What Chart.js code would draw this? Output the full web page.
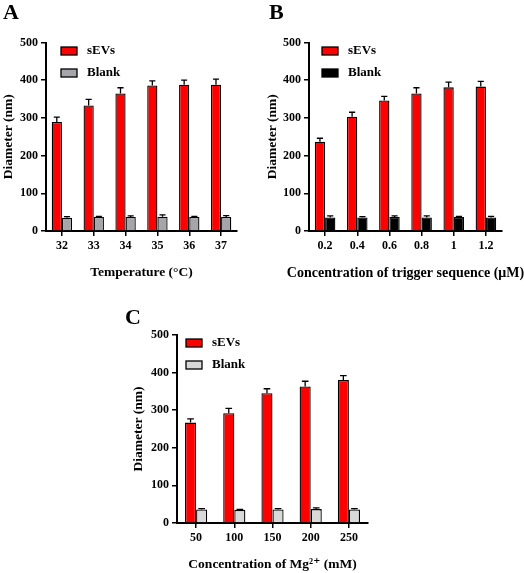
<!DOCTYPE html>
<html>
<head>
<meta charset="utf-8">
<script src="https://cdn.jsdelivr.net/npm/chart.js@4.4.1/dist/chart.umd.min.js"></script>
<style>
  html, body { margin: 0; padding: 0; background: #fff; }
  #wrap { position: relative; width: 524px; height: 573px; overflow: hidden; }
  canvas { position: absolute; }
  .tag { position: absolute; font: bold 22px 'Liberation Serif', serif; line-height: 22px; color: #000; }
</style>
</head>
<body>
<div id="wrap">
  <canvas id="temp-canvas" width="262" height="290" style="left:0;top:0"></canvas>
  <canvas id="trig-canvas" width="262" height="290" style="left:262px;top:0"></canvas>
  <canvas id="mg-canvas" width="300" height="283" style="left:120px;top:290px"></canvas>
  <div class="tag" style="left:3px;top:1px">A</div>
  <div class="tag" style="left:269px;top:1px">B</div>
  <div class="tag" style="left:125px;top:306px">C</div>
</div>
<script>
/* panel A - temperature */
let tempLabels = ['32', '33', '34', '35', '36', '37'];
let tempEVs = [289, 333, 365, 386, 388, 388];
let tempEVsErr = [13, 16, 15, 12, 12, 15];
let tempBlank = [35, 37, 37, 38, 37, 37];
let tempBlankErr = [3, 2, 3, 5, 2, 4];

/* panel B - trigger sequence */
let trigLabels = ['0.2', '0.4', '0.6', '0.8', '1', '1.2'];
let trigEVs = [237, 303, 346, 365, 381, 383];
let trigEVsErr = [9, 12, 11, 15, 14, 14];
let trigBlank = [36, 36, 37, 36, 37, 36];
let trigBlankErr = [4, 2, 3, 4, 2, 3];

/* panel C - Mg2+ */
let mgLabels = ['50', '100', '150', '200', '250'];
let mgEVs = [267, 292, 345, 363, 380];
let mgEVsErr = [10, 13, 12, 14, 12];
let mgBlank = [36, 35, 36, 37, 36];
let mgBlankErr = [2, 1, 2, 3, 2];

let yTicks = [0, 100, 200, 300, 400, 500];

const FONT = "'Liberation Serif', 'DejaVu Serif', serif";

/* upper error bars with a small cap */
const errorBars = {
  id: 'errorBars',
  afterDatasetsDraw(chart) {
    const ctx = chart.ctx;
    const y = chart.scales.y;
    chart.data.datasets.forEach(function(ds, i) {
      chart.getDatasetMeta(i).data.forEach(function(bar, j) {
        const top = y.getPixelForValue(ds.data[j] + ds.errors[j]);
        const half = bar.width * 0.3;
        ctx.save();
        ctx.strokeStyle = '#000';
        ctx.lineWidth = 1.3;
        ctx.beginPath();
        ctx.moveTo(bar.x, bar.y);
        ctx.lineTo(bar.x, top);
        ctx.moveTo(bar.x - half, top);
        ctx.lineTo(bar.x + half, top);
        ctx.stroke();
        ctx.restore();
      });
    });
  }
};

/* legend inside the plot, top left */
const boxLegend = {
  id: 'boxLegend',
  afterDraw(chart, args, opts) {
    const ctx = chart.ctx;
    const area = chart.chartArea;
    chart.data.datasets.forEach(function(ds, i) {
      const x = area.left + opts.left;
      const cy = area.top + opts.top + i * 22;
      ctx.save();
      ctx.fillStyle = ds.backgroundColor;
      ctx.fillRect(x, cy - 4, 16, 8);
      ctx.strokeStyle = '#000';
      ctx.lineWidth = 1.3;
      ctx.strokeRect(x, cy - 4, 16, 8);
      ctx.fillStyle = '#000';
      ctx.font = 'bold 13px ' + FONT;
      ctx.textBaseline = 'middle';
      ctx.fillText(ds.label, x + 26, cy);
      ctx.restore();
    });
  }
};

/* x axis title without the width limit, so long titles are not squeezed */
const xTitle = {
  id: 'xTitle',
  afterDraw(chart, args, opts) {
    const ctx = chart.ctx;
    const s = chart.scales.x;
    ctx.save();
    ctx.fillStyle = '#000';
    ctx.font = 'bold ' + opts.size + 'px ' + FONT;
    ctx.textAlign = 'center';
    ctx.textBaseline = 'middle';
    ctx.fillText(opts.text, (s.left + s.right) / 2, s.bottom - 8);
    ctx.restore();
  }
};

function axisStyle() {
  return {
    grid: { drawOnChartArea: false, drawTicks: true, tickLength: 5, color: '#000', lineWidth: 1.5, offset: false },
    border: { display: true, color: '#000', width: 2 }
  };
}

function drawPanel(id, labels, evs, evsErr, blank, blankErr, blankColor, xText, cfg) {
  let xs = axisStyle();
  let ys = axisStyle();
  return new Chart(document.getElementById(id), {
    type: 'bar',
    data: {
      labels: labels,
      datasets: [{
        label: 'sEVs',
        data: evs,
        errors: evsErr,
        backgroundColor: '#ff0000',
        borderColor: '#000',
        borderWidth: 1.3
      }, {
        label: 'Blank',
        data: blank,
        errors: blankErr,
        backgroundColor: blankColor,
        borderColor: '#000',
        borderWidth: 1.3
      }]
    },
    options: {
      responsive: false,
      animation: false,
      devicePixelRatio: 1,
      barPercentage: 1,
      categoryPercentage: cfg.cat,
      layout: { padding: cfg.pad },
      plugins: {
        legend: { display: false },
        tooltip: { enabled: false },
        boxLegend: cfg.legend,
        xTitle: { text: xText, size: cfg.titleSize }
      },
      scales: {
        x: {
          grid: xs.grid,
          border: xs.border,
          ticks: { color: '#000', font: { family: FONT, weight: 'bold', size: 12 }, padding: 3 },
          afterFit: function(s) { s.height = cfg.xHeight; }
        },
        y: {
          min: 0,
          max: 500,
          grid: ys.grid,
          border: ys.border,
          afterBuildTicks: function(s) { s.ticks = yTicks.map(v => ({ value: v })); },
          ticks: { color: '#000', font: { family: FONT, weight: 'bold', size: 12 }, padding: 3 },
          title: { display: true, text: 'Diameter (nm)', color: '#000', font: { family: FONT, weight: 'bold', size: 13.5 }, padding: 0 },
          afterFit: function(s) { s.width = cfg.yWidth; }
        }
      }
    },
    plugins: [errorBars, boxLegend, xTitle]
  });
}

drawPanel('temp-canvas', tempLabels, tempEVs, tempEVsErr, tempBlank, tempBlankErr, '#a6a6aa',
  'Temperature (°C)',
  { cat: 0.64, titleSize: 13.5, pad: { left: 0, top: 42.5, right: 25, bottom: 9 }, yWidth: 46, xHeight: 50, legend: { left: 15, top: 8.5 } });

drawPanel('trig-canvas', trigLabels, trigEVs, trigEVsErr, trigBlank, trigBlankErr, '#000000',
  'Concentration of trigger sequence (μM)',
  { cat: 0.64, titleSize: 14, pad: { left: 2, top: 42.5, right: 22, bottom: 9 }, yWidth: 45, xHeight: 50, legend: { left: 13, top: 8.5 } });

drawPanel('mg-canvas', mgLabels, mgEVs, mgEVsErr, mgBlank, mgBlankErr, '#d9d9d9',
  'Concentration of Mg²⁺ (mM)',
  { cat: 0.58, titleSize: 13.5, pad: { left: 10, top: 45, right: 52, bottom: 0 }, yWidth: 47, xHeight: 50, legend: { left: 9, top: 8 } });
</script>
</body>
</html>
